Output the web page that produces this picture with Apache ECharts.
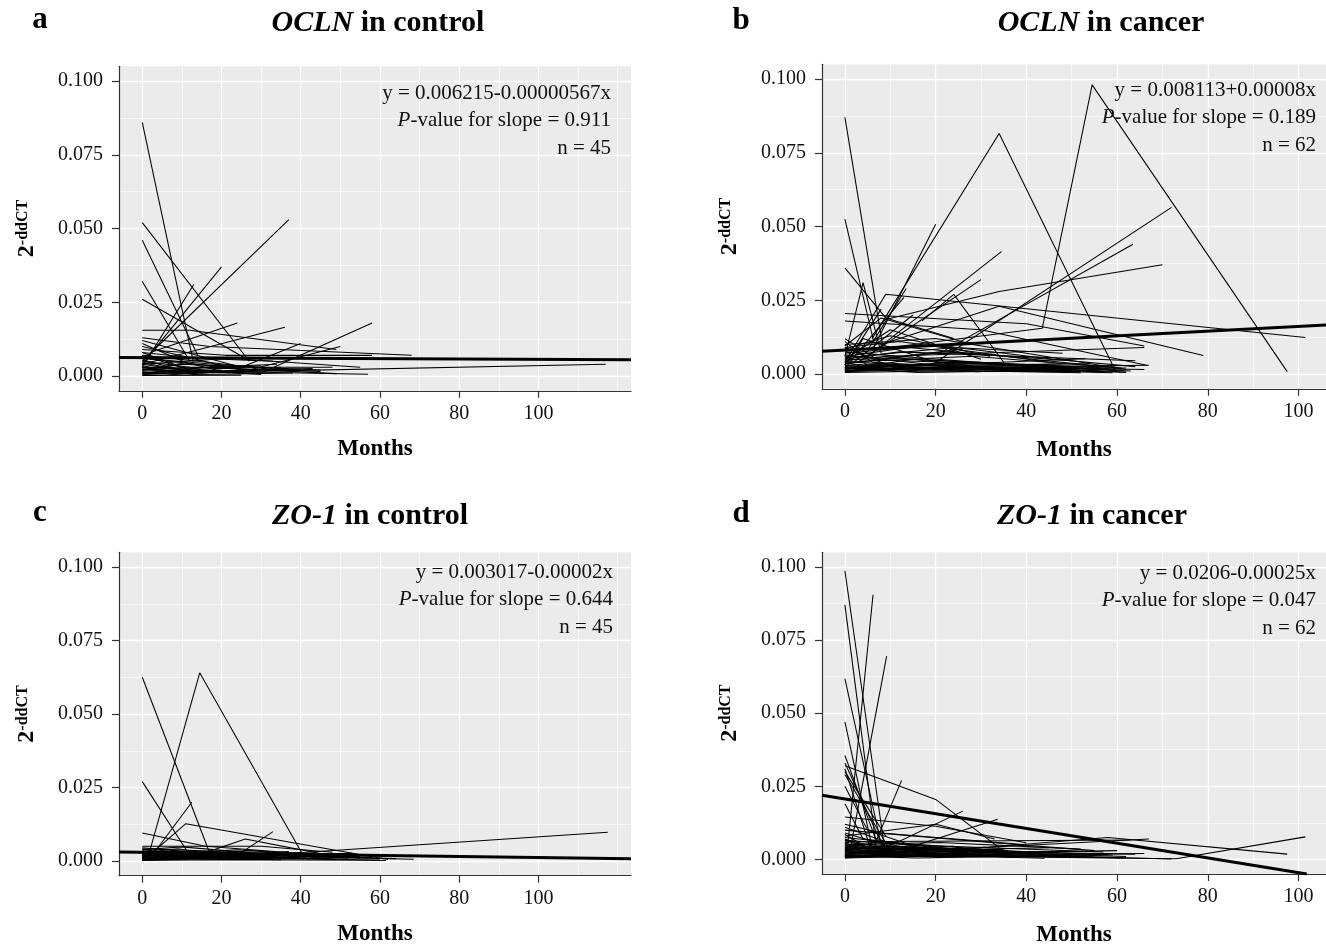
<!DOCTYPE html>
<html>
<head>
<meta charset="utf-8">
<script src="https://cdn.jsdelivr.net/npm/echarts@6/dist/echarts.min.js"></script>
<style>
html, body { margin: 0; padding: 0; background: #fff; }
#chart { width: 1326px; height: 948px; }
</style>
</head>
<body>
<div id="chart"></div>
<script>
// one entry per subject: [month, 2^-ddCT] pairs
const oclnControl = [
  [[0,0.086],[13,0.004]], [[0,0.052],[27,0.005]], [[0,0.046],[14,0.007]], [[0,0.032],[12,0.005]],
  [[0,0.026],[26,0.006]], [[0,0.005],[37,0.053]], [[0,0.004],[20,0.037]], [[0,0.003],[13,0.031]],
  [[2,0.008],[24,0.018]], [[0,0.004],[36,0.0165]], [[30,0.001],[58,0.018]], [[0,0.0155],[12,0.0155],[49,0.009]],
  [[0,0.013],[17,0.010],[68,0.007]], [[0,0.012],[25,0.003],[40,0.011]], [[0,0.0008],[117,0.004]], [[0,0.002],[57,0.0006]],
  [[0,0.008],[14,0.006],[33,0.005]], [[0,0.006],[27,0.002],[50,0.010]], [[0,0.003],[48,0.003]], [[0,0.010],[25,0.002]],
  [[0,0.007],[12,0.002],[30,0.0005]], [[0,0.002],[10,0.004],[45,0.002]], [[0,0.001],[20,0.002]], [[0,0.004],[15,0.001],[35,0.003]],
  [[0,0.0015],[8,0.0005],[30,0.002]], [[0,0.003],[25,0.001]], [[0,0.005],[12,0.003],[45,0.0015]], [[0,0.0005],[14,0.001]],
  [[0,0.002],[11,0.0045],[22,0.001]], [[0,0.006],[18,0.004],[40,0.002]], [[0,0.001],[30,0.0035]], [[0,0.0035],[9,0.001]],
  [[0,0.004],[22,0.006],[55,0.003]], [[0,0.0025],[13,0.0005],[38,0.001]], [[0,0.001],[16,0.003],[49,0.0008]], [[0,0.007],[28,0.003]],
  [[0,0.0045],[10,0.002],[20,0.0035]], [[0,0.0002],[25,0.0003]], [[0,0.002],[34,0.004]], [[0,0.0055],[14,0.0005]],
  [[0,0.011],[12,0.004],[26,0.003]], [[0,0.009],[21,0.007],[58,0.007]], [[0,0.0012],[43,0.0025]], [[0,0.003],[6,0.0015],[30,0.001]],
  [[0,0.008],[12,0.002]]
];
const oclnCancer = [
  [[0,0.087],[8.5,0.008]], [[0,0.0525],[6.5,0.010]], [[0,0.036],[9,0.019],[24,0.012]], [[0,0.006],[4,0.031],[8,0.007]],
  [[6,0.008],[20,0.0508]], [[5,0.006],[34.5,0.0415]], [[3,0.004],[30,0.032]], [[5,0.008],[13.5,0.029]],
  [[6,0.012],[34,0.0815],[59.5,0.0015]], [[10,0.009],[43.5,0.0155],[54.5,0.098],[97.5,0.0008]], [[17,0.018],[24,0.027],[35,0.004]], [[9,0.0185],[34,0.028],[70,0.037]],
  [[20,0.004],[72,0.0565]], [[22,0.008],[63.5,0.044]], [[0,0.004],[9,0.027],[101.5,0.0124]], [[8,0.010],[34,0.023],[79,0.0063]],
  [[0,0.0205],[40,0.017],[66,0.0095]], [[0,0.018],[30,0.015],[66.5,0.003]], [[0,0.010],[20,0.012],[62,0.0015]], [[10,0.006],[66,0.009]],
  [[0,0.003],[8,0.022]], [[0,0.002],[13,0.026]], [[2,0.004],[15,0.020]], [[0,0.005],[10,0.015],[30,0.005]],
  [[0,0.009],[12,0.011],[45,0.004]], [[0,0.002],[25,0.004],[60,0.0012]], [[0,0.0035],[18,0.002],[55,0.001]], [[0,0.001],[30,0.0025],[62,0.0005]],
  [[0,0.006],[22,0.0045],[58,0.002]], [[0,0.0015],[15,0.005],[50,0.002]], [[0,0.008],[5,0.003],[40,0.003],[61,0.0012]], [[0,0.004],[28,0.006],[61,0.002]],
  [[0,0.0005],[20,0.001],[52,0.0008]], [[0,0.007],[14,0.009],[35,0.006],[60,0.002]], [[0,0.0025],[10,0.0015],[48,0.0035]], [[0,0.011],[6,0.004],[30,0.002],[57,0.0009]],
  [[0,0.001],[12,0.003],[44,0.0015]], [[0,0.005],[35,0.0035],[63,0.001]], [[0,0.003],[4,0.012],[20,0.004],[50,0.0025]], [[0,0.002],[16,0.0005],[57,0.0015]],
  [[0,0.0045],[9,0.006],[38,0.001]], [[0,0.006],[19,0.010],[46,0.005],[64,0.0025]], [[0,0.0012],[26,0.0025],[66,0.0015]], [[0,0.009],[11,0.002],[33,0.0015]],
  [[0,0.0035],[22,0.0075],[50,0.0045]], [[0,0.0018],[7,0.0035],[29,0.0008],[55,0.0022]], [[0,0.0075],[16,0.0055],[42,0.0025]], [[0,0.0028],[36,0.0018],[60,0.0028]],
  [[0,0.005],[12,0.0075],[64,0.0045]], [[0,0.0009],[9,0.0025],[24,0.0012],[52,0.0004]], [[0,0.012],[7,0.005],[26,0.0085]], [[0,0.0022],[30,0.004],[56,0.0006]],
  [[0,0.0065],[20,0.003],[54,0.0035]], [[0,0.0015],[18,0.0032],[45,0.0012]], [[0,0.004],[6,0.0018],[39,0.0022],[62,0.0007]], [[0,0.0095],[8,0.019],[28,0.010]],
  [[0,0.003],[14,0.0012],[62,0.002]], [[0,0.0055],[24,0.009],[48,0.007]], [[0,0.0018],[40,0.0025],[67,0.003]], [[0,0.0085],[10,0.013],[32,0.006]],
  [[0,0.0008],[22,0.0018],[59,0.0004]], [[0,0.0042],[16,0.0028],[53,0.0052]]
];
const zo1Control = [
  [[0,0.0625],[17.5,0.001]], [[1.5,0.0015],[14.5,0.064],[41,0.001]], [[0,0.027],[11.5,0.003],[25,0.0008]], [[2,0.001],[12.5,0.020]],
  [[1,0.001],[11,0.0127],[62,0.0005]], [[24,0.002],[33,0.010]], [[0,0.0095],[16,0.005],[55,0.001]], [[0,0.005],[30,0.005],[48,0.003]],
  [[0,0.001],[41.5,0.003],[117.5,0.0098]], [[12,0.001],[26,0.0075],[47,0.002]], [[0,0.003],[25,0.002],[68.5,0.0006]], [[0,0.002],[20,0.0015],[61.5,0.0002]],
  [[0,0.004],[12,0.0015],[40,0.002]], [[0,0.0012],[18,0.003],[52,0.001]], [[0,0.0025],[30,0.0035],[45,0.001]], [[0,0.0005],[10,0.001],[35,0.0004]],
  [[0,0.0018],[8,0.0035],[28,0.0012]], [[0,0.0008],[22,0.0006]], [[0,0.003],[14,0.0022],[50,0.0015]], [[0,0.0015],[6,0.0005],[32,0.0018]],
  [[0,0.0035],[20,0.0028],[58,0.0012]], [[0,0.001],[15,0.002],[40,0.0009]], [[0,0.0022],[11,0.0008],[30,0.0025]], [[0,0.0004],[26,0.0012],[49,0.0005]],
  [[0,0.0028],[9,0.0042],[21,0.0015]], [[0,0.0012],[33,0.0008]], [[0,0.0045],[13,0.003],[44,0.0022]], [[0,0.0002],[18,0.0004],[60,0.0003]],
  [[0,0.002],[24,0.0038],[38,0.0025]], [[0,0.0016],[12,0.0026],[55,0.0014]], [[0,0.0032],[7,0.0014],[27,0.0006]], [[0,0.0006],[16,0.0015],[46,0.002]],
  [[0,0.0024],[19,0.0011]], [[0,0.0038],[10,0.0048],[36,0.0018]], [[0,0.001],[28,0.0022],[64,0.0008]], [[0,0.0014],[5,0.0024],[23,0.0004]],
  [[0,0.0009],[14,0.0007],[42,0.0016]], [[0,0.0026],[21,0.0017],[53,0.0026]], [[0,0.0003],[12,0.0009]], [[0,0.0042],[17,0.0034],[31,0.0012]],
  [[0,0.0019],[9,0.0012],[37,0.0032]], [[0,0.0011],[25,0.0005],[57,0.0011]], [[0,0.0033],[13,0.0019],[47,0.0009]], [[0,0.0007],[20,0.0025],[34,0.0014]],
  [[0,0.0021],[11,0.0031],[29,0.0021]]
];
const zo1Cancer = [
  [[0,0.0987],[9,0.001]], [[0,0.087],[7,0.003]], [[0.5,0.003],[6.2,0.0905]], [[1,0.002],[9.2,0.0695]],
  [[0,0.0618],[8,0.005]], [[0,0.047],[6,0.004]], [[0,0.0355],[7,0.006],[20,0.002]], [[0,0.033],[8.5,0.004]],
  [[0,0.031],[6,0.002],[30,0.001]], [[0,0.030],[9,0.008]], [[0,0.025],[5,0.010],[18,0.003]], [[0,0.032],[20,0.0205],[34,0.004]],
  [[0,0.029],[10,0.003]], [[6,0.003],[12.5,0.027]], [[9,0.004],[26,0.0165]], [[12,0.003],[33.7,0.0137]],
  [[0,0.0145],[20,0.0113],[40,0.0057]], [[0,0.0015],[73,0.0002],[101.5,0.0077]], [[30,0.004],[58,0.0075],[97.5,0.0018]], [[5,0.002],[67,0.007]],
  [[0,0.006],[63,0.0066]], [[0,0.003],[72,0.0001]], [[0,0.004],[62,0.001]], [[0,0.019],[4,0.007],[20,0.004]],
  [[0,0.012],[8,0.009],[40,0.005]], [[0,0.010],[30,0.006],[55,0.003]], [[0,0.008],[20,0.012],[33,0.007]], [[0,0.011],[9,0.006],[25,0.002]],
  [[0,0.005],[15,0.003],[45,0.004]], [[0,0.002],[10,0.004],[50,0.0015]], [[0,0.0035],[25,0.002],[60,0.003]], [[0,0.0015],[12,0.001],[40,0.002]],
  [[0,0.007],[6,0.003],[28,0.0015]], [[0,0.0025],[20,0.004],[53,0.0008]], [[0,0.0045],[18,0.0025],[35,0.0035]], [[0,0.001],[30,0.0015],[62,0.0005]],
  [[0,0.009],[11,0.004],[36,0.003]], [[0,0.0055],[9,0.0015],[44,0.0025]], [[0,0.0018],[22,0.0032],[48,0.001]], [[0,0.0065],[14,0.005],[57,0.0025]],
  [[0,0.0012],[16,0.0005],[38,0.0012]], [[0,0.004],[8,0.006],[30,0.0035]], [[0,0.0028],[26,0.0012],[66,0.002]], [[0,0.0085],[5,0.004],[22,0.001]],
  [[0,0.0022],[13,0.0035],[42,0.0018]], [[0,0.0048],[32,0.003],[59,0.0015]], [[0,0.0006],[19,0.0018],[46,0.0009]], [[0,0.0038],[7,0.0022],[31,0.0042]],
  [[0,0.0016],[24,0.0008],[55,0.0012]], [[0,0.0075],[12,0.0055],[40,0.001]], [[0,0.0032],[10,0.0012],[27,0.0024]], [[0,0.0009],[35,0.0025],[64,0.0018]],
  [[0,0.005],[21,0.0058],[52,0.0035]], [[0,0.0026],[17,0.0016],[61,0.0006]], [[0,0.0014],[6,0.0028],[33,0.0011]], [[0,0.0042],[28,0.0022],[50,0.0028]],
  [[0,0.0011],[14,0.0024],[37,0.0007]], [[0,0.0068],[9,0.0035],[24,0.0045]], [[0,0.002],[30,0.0009],[58,0.0016]], [[0,0.0035],[12,0.0045],[47,0.0022]],
  [[0,0.0005],[22,0.0013],[44,0.0004]], [[0,0.0058],[16,0.0038],[39,0.0019]]
];

// fitted lines, ends at the panel edges
const fitOclnControl = [[-5.875, 0.00625], [123.375, 0.0055]];
const fitOclnCancer = [[-5.05, 0.0077], [106.05, 0.0166]];
const fitZo1Control = [[-5.875, 0.0031], [123.375, 0.0008]];
const fitZo1Cancer = [[-5.05, 0.0219], [101.8, -0.005]];

const letters = ['a', 'b', 'c', 'd'];
const genes = ['OCLN', 'OCLN', 'ZO-1', 'ZO-1'];
const groups = ['control', 'cancer', 'control', 'cancer'];
const equations = ['y = 0.006215-0.00000567x', 'y = 0.008113+0.00008x', 'y = 0.003017-0.00002x', 'y = 0.0206-0.00025x'];
const pValues = ['0.911', '0.189', '0.644', '0.047'];
const nValues = [45, 62, 45, 62];

const xTicks = [0, 20, 40, 60, 80, 100];
const xMinorLong = [10, 30, 50, 70, 90, 110, 120];
const xMinorShort = [10, 30, 50, 70, 90];
const yTicks = [0, 0.025, 0.05, 0.075, 0.1];
const yMinor = [0.0125, 0.0375, 0.0625, 0.0875];

const SERIF = '"Liberation Serif", "Times New Roman", serif';

let panels = [
  {data: oclnControl, fit: fitOclnControl, xRange: [-5.875, 123.375], xMinor: xMinorLong,
   grid: {left: 119, top: 66.25, width: 512, height: 324.5},
   letter: [40, 20], title: [378, 23], note: [611, 93], nameGap: 47},
  {data: oclnCancer, fit: fitOclnCancer, xRange: [-5.05, 106.05], xMinor: xMinorShort,
   grid: {left: 822, top: 64.25, width: 506.6, height: 324.5},
   letter: [741, 21], title: [1101, 23], note: [1316, 90], nameGap: 50},
  {data: zo1Control, fit: fitZo1Control, xRange: [-5.875, 123.375], xMinor: xMinorLong,
   grid: {left: 119, top: 552.3, width: 512, height: 323.4},
   letter: [40, 513], title: [370, 516], note: [613, 572], nameGap: 47},
  {data: zo1Cancer, fit: fitZo1Cancer, xRange: [-5.05, 106.05], xMinor: xMinorShort,
   grid: {left: 822, top: 552.3, width: 506.6, height: 323.4},
   letter: [741, 514], title: [1092, 516], note: [1316, 573], nameGap: 50}
];

let axisColor = '#333';
let grids = [], xAxes = [], yAxes = [], series = [], texts = [];

panels.forEach(function (p, i) {
  grids.push(Object.assign({show: true, backgroundColor: '#EBEBEB', borderWidth: 0}, p.grid));

  xAxes.push({
    type: 'value', gridIndex: i, min: p.xRange[0], max: p.xRange[1],
    axisLine: {show: true, onZero: false, lineStyle: {color: axisColor, width: 1.2}},
    axisTick: {show: true, length: 7, customValues: xTicks, lineStyle: {color: axisColor, width: 1.2}},
    axisLabel: {customValues: xTicks, margin: 13, fontFamily: SERIF, fontSize: 20, color: '#111'},
    splitLine: {show: true, lineStyle: {color: '#fff', width: 1.3}},
    name: 'Months', nameLocation: 'middle', nameGap: p.nameGap,
    nameTextStyle: {fontFamily: SERIF, fontSize: 23, fontWeight: 'bold', color: '#000'}
  });
  xAxes.push({
    type: 'value', gridIndex: i, min: p.xRange[0], max: p.xRange[1],
    axisLine: {show: false}, axisLabel: {show: false},
    axisTick: {show: false, customValues: p.xMinor},
    splitLine: {show: true, lineStyle: {color: '#fff', width: 0.6}}
  });

  yAxes.push({
    type: 'value', gridIndex: i, min: -0.005, max: 0.105,
    axisLine: {show: true, onZero: false, lineStyle: {color: axisColor, width: 1.2}},
    axisTick: {show: true, length: 7, customValues: yTicks, lineStyle: {color: axisColor, width: 1.2}},
    axisLabel: {customValues: yTicks, margin: 16, fontFamily: SERIF, fontSize: 20, color: '#111',
      formatter: function (v) { return v.toFixed(3); }},
    splitLine: {show: true, lineStyle: {color: '#fff', width: 1.3}},
    name: '{a|2}{b|-ddCT}', nameLocation: 'middle', nameGap: 80, nameRotate: 90,
    nameTextStyle: {rich: {
      a: {fontFamily: SERIF, fontSize: 24, fontWeight: 'bold', color: '#000', verticalAlign: 'bottom'},
      b: {fontFamily: SERIF, fontSize: 16, fontWeight: 'bold', color: '#000', verticalAlign: 'top'}
    }}
  });
  yAxes.push({
    type: 'value', gridIndex: i, min: -0.005, max: 0.105,
    axisLine: {show: false}, axisLabel: {show: false},
    axisTick: {show: false, customValues: yMinor},
    splitLine: {show: true, lineStyle: {color: '#fff', width: 0.6}}
  });

  p.data.forEach(function (subject) {
    series.push({
      type: 'line', xAxisIndex: 2 * i, yAxisIndex: 2 * i, data: subject,
      symbol: 'none', silent: true, z: 2,
      lineStyle: {color: '#000', width: 1.05}
    });
  });
  series.push({
    type: 'line', xAxisIndex: 2 * i, yAxisIndex: 2 * i, data: p.fit,
    symbol: 'none', silent: true, z: 3,
    lineStyle: {color: '#000', width: 3}
  });

  let bold = {fontFamily: SERIF, fontSize: 30, fontWeight: 'bold', fill: '#000'};
  texts.push({type: 'text', z: 100, x: p.letter[0], y: p.letter[1], style: {
    text: letters[i], fontFamily: SERIF, fontSize: 31, fontWeight: 'bold', fill: '#000',
    align: 'center', verticalAlign: 'middle'}});
  texts.push({type: 'text', z: 100, x: p.title[0], y: p.title[1], style: {
    text: '{i|' + genes[i] + '}{r| in ' + groups[i] + '}',
    rich: {i: Object.assign({fontStyle: 'italic'}, bold), r: bold},
    align: 'center', verticalAlign: 'middle'}});

  let plain = {fontFamily: SERIF, fontSize: 21, fill: '#111'};
  let lines = [
    '{r|' + equations[i] + '}',
    '{i|P}{r|-value for slope = ' + pValues[i] + '}',
    '{r|n = ' + nValues[i] + '}'
  ];
  lines.forEach(function (t, k) {
    texts.push({type: 'text', z: 100, x: p.note[0], y: p.note[1] + k * 27.5, style: {
      text: t, rich: {r: plain, i: Object.assign({fontStyle: 'italic'}, plain)},
      align: 'right', verticalAlign: 'middle'}});
  });
});

let chart = echarts.init(document.getElementById('chart'));
chart.setOption({
  animation: false,
  backgroundColor: '#fff',
  grid: grids,
  xAxis: xAxes,
  yAxis: yAxes,
  series: series,
  graphic: {elements: texts}
});
</script>
</body>
</html>
